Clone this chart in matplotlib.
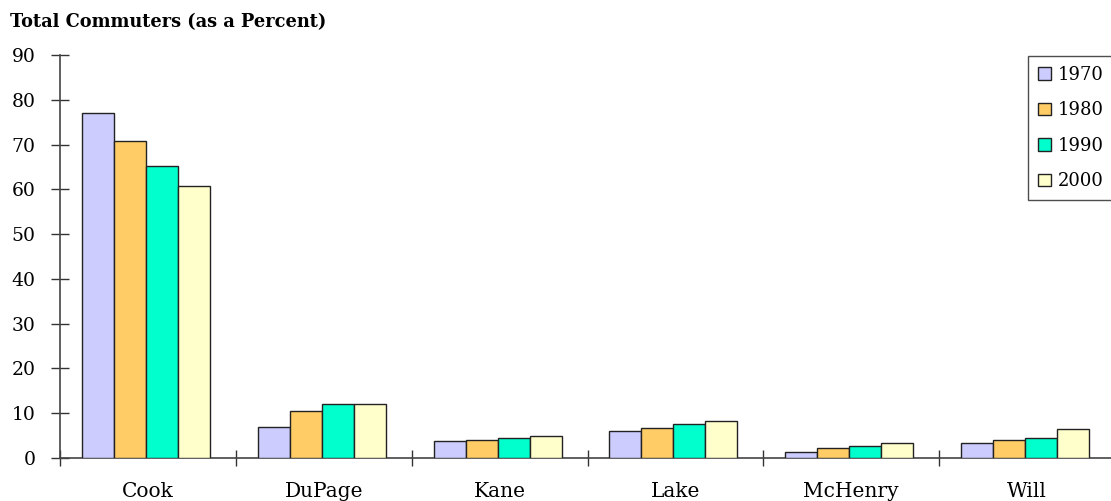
import matplotlib
matplotlib.use("Agg")
import matplotlib.pyplot as plt
import numpy as np

counties = ["Cook", "DuPage", "Kane", "Lake", "McHenry", "Will"]
years = ["1970", "1980", "1990", "2000"]
v1970 = [77.0, 7.0, 3.7, 6.0, 1.4, 3.3]
v1980 = [70.8, 10.6, 4.1, 6.6, 2.2, 4.1]
v1990 = [65.2, 12.0, 4.5, 7.5, 2.7, 4.5]
v2000 = [60.7, 12.0, 5.0, 8.3, 3.3, 6.4]
series = [v1970, v1980, v1990, v2000]
colors = ["#CCCCFF", "#FFCC66", "#00FFCC", "#FFFFCC"]
yticks = [0, 10, 20, 30, 40, 50, 60, 70, 80, 90]

plt.rcParams['font.family'] = ['DejaVu Serif']
W, H = 1111, 501
fig = plt.figure(figsize=(W/100, H/100), dpi=100)
ax = fig.add_axes([60/W, (H-458)/H, 1055/W, (458-55)/H])

bw = 0.182
x = np.arange(len(counties))
for k, (vals, c, yr) in enumerate(zip(series, colors, years)):
    ax.bar(x + 0.125 + bw/2 + k*bw, vals, width=bw, color=c, edgecolor="#222222",
           linewidth=1.0, label=yr, zorder=3)

ax.set_xlim(0, 6)
ax.set_ylim(0, 90)
ax.set_yticks(yticks)
ax.set_xticks(np.arange(0, 6))
ax.set_xticklabels([])
ax.set_xticks(x + 0.5, minor=True)
ax.set_xticklabels(counties, minor=True, fontsize=14.5)
ax.tick_params(axis='x', which='minor', length=0, pad=17)
ax.tick_params(axis='x', which='major', direction='inout', length=12, width=1, color="#333333")
ax.tick_params(axis='y', direction='inout', length=13, width=1, color="#333333", labelsize=13.5, pad=11)
for s in ['top', 'right']:
    ax.spines[s].set_visible(False)
for s in ['left', 'bottom']:
    ax.spines[s].set_color("#444444")
    ax.spines[s].set_linewidth(1.2)

fig.text(10/W, 1 - 22/H, "Total Commuters (as a Percent)", fontsize=12.8, fontweight='bold',
         va='center', ha='left')

leg = ax.legend(loc='upper left', bbox_to_anchor=(1028/W, 1 - 56/H), bbox_transform=fig.transFigure,
                fontsize=13, frameon=True, fancybox=False, edgecolor="#222222",
                handlelength=0.7, handleheight=0.7, handletextpad=0.4, labelspacing=0.97,
                borderpad=0.55, borderaxespad=0)
leg.get_frame().set_linewidth(1.0)

fig.savefig("out.png", dpi=100)
